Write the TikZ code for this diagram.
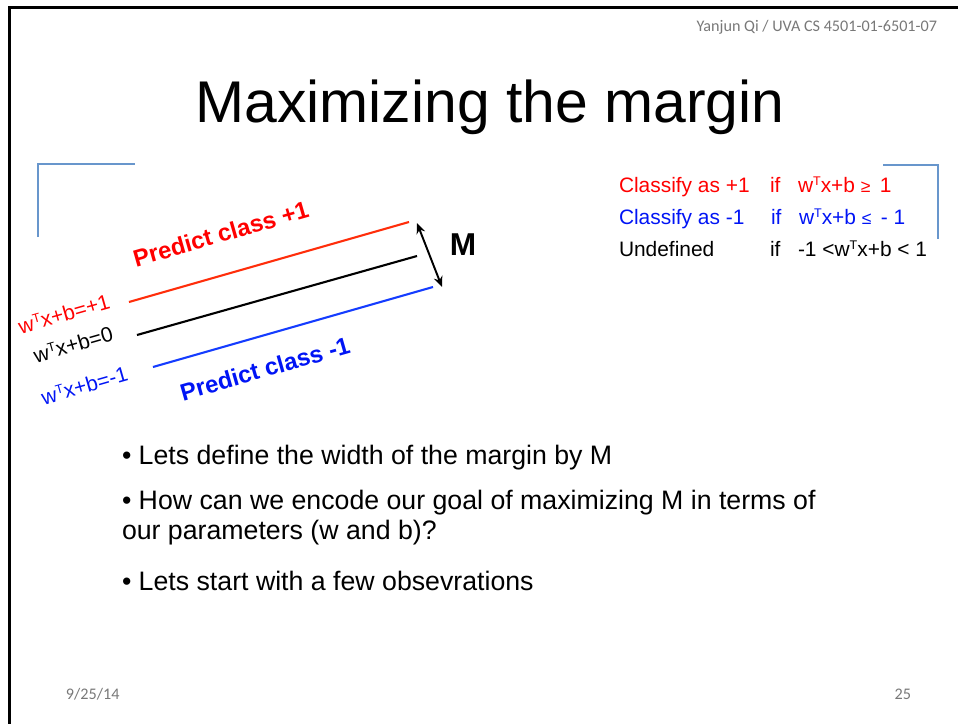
\documentclass[tikz,border=0pt]{standalone}
\usepackage{fontspec}
\setmainfont{Liberation Sans}
\newfontfamily\slidefoot{Carlito}
\usepackage{tikz}
\usetikzlibrary{arrows.meta, positioning, calc}
\definecolor{posred}{RGB}{255,0,0}
\definecolor{negblue}{RGB}{0,20,245}
\definecolor{linered}{RGB}{255,45,10}
\definecolor{lineblue}{RGB}{20,60,255}
\definecolor{cornerblue}{RGB}{104,150,204}
\definecolor{footgray}{RGB}{120,120,120}
\newcommand{\supT}{\raisebox{0.3em}{\scalebox{0.6}{T}}}

\begin{document}
\begin{tikzpicture}[x=0.02cm, y=-0.02cm,
    every node/.style={inner sep=0pt, outer sep=0pt},
    rowtext/.style={anchor=base west, font=\fontsize{11.9}{13}\selectfont},
    bullettext/.style={anchor=base west, font=\fontsize{15.2}{17}\selectfont},
    planelabel/.style={anchor=base west, rotate=16, font=\fontsize{12}{13}\selectfont},
    regionlabel/.style={anchor=base west, rotate=16, font=\fontsize{13.6}{15}\selectfont\bfseries},
    footnote/.style={font=\fontsize{9.2}{10}\selectfont\slidefoot, text=footgray}]
            \useasboundingbox (0,0) rectangle (958,724);
            % slide frame
            \draw[line width=1.4pt] (9.5,724) -- (9.5,7.5) -- (958,7.5);
            \node[footnote, anchor=base east] (hdr) at (937,31) {Yanjun Qi / UVA CS 4501-01-6501-07};
            \node[anchor=base, font=\fontsize{33.5}{36}\selectfont] (title) at (490,122) {Maximizing the margin};
            % corner marks
            \draw[cornerblue, line width=1.2pt] (38,237) -- (38,164) -- (135,164);
            \draw[cornerblue, line width=1.2pt] (883,165) -- (938,165) -- (938,239);
            % the three planes
            \draw[linered, line width=1.2pt]  (129,302) -- (409,222);
            \draw[black, line width=1.2pt]    (137,335) -- (417,256);
            \draw[lineblue, line width=1.2pt] (153,367) -- (433,287);
            \coordinate (mtop) at (417,223);
            \coordinate (mbot) at (442,287);
            \draw[{Stealth[length=6pt,width=5pt]}-{Stealth[length=6pt,width=5pt]}, line width=1.1pt] (mtop) -- (mbot);
            \node[anchor=base, font=\fontsize{18}{20}\selectfont\bfseries] (mlbl) at (463,255) {M};
            \node[regionlabel, text=posred] (predpos) at (136,267) {Predict class +1};
            \node[regionlabel, text=negblue] (predneg) at (183,401) {Predict class -1};
            \node[planelabel, text=posred] (lblpos) at (21,334) {w\supT x+b=+1};
            \node[planelabel] (lblzero) at (36,363) {w\supT x+b=0};
            \node[planelabel, text=negblue] (lblneg) at (44,405) {w\supT x+b=-1};
            % decision rule
            \node[rowtext, text=posred] (ra) at (619,192) {Classify as +1};
            \node[rowtext, text=posred] (rb) at (770,192) {if};
            \node[rowtext, text=posred] (rc) at (798,192) {w\supT x+b {\fontsize{10}{11}\selectfont ≥} \,1};
            \node[rowtext, text=negblue] (sa) at (619,224) {Classify as -1};
            \node[rowtext, text=negblue] (sb) at (771,224) {if};
            \node[rowtext, text=negblue] (sc) at (799,224) {w\supT x+b {\fontsize{10}{11}\selectfont ≤} \,- 1};
            \node[rowtext] (ua) at (619,256) {Undefined};
            \node[rowtext] (ub) at (770,256) {if};
            \node[rowtext] (uc) at (798,256) {-1 <w\supT x+b < 1};
            % bullets
            \node[bullettext] (b1) at (122,464) {• Lets define the width of the margin by M};
            \node[bullettext] (b2) at (122,509) {• How can we encode our goal of maximizing M in terms of};
            \node[bullettext] (b2b) at (122,539) {our parameters (w and b)?};
            \node[bullettext] (b3) at (122,590) {• Lets start with a few obsevrations};
            \node[footnote, anchor=base west] (date) at (66,699) {9/25/14};
            \node[footnote, anchor=base east] (pgno) at (911,699) {25};
        \end{tikzpicture}
\end{document}
